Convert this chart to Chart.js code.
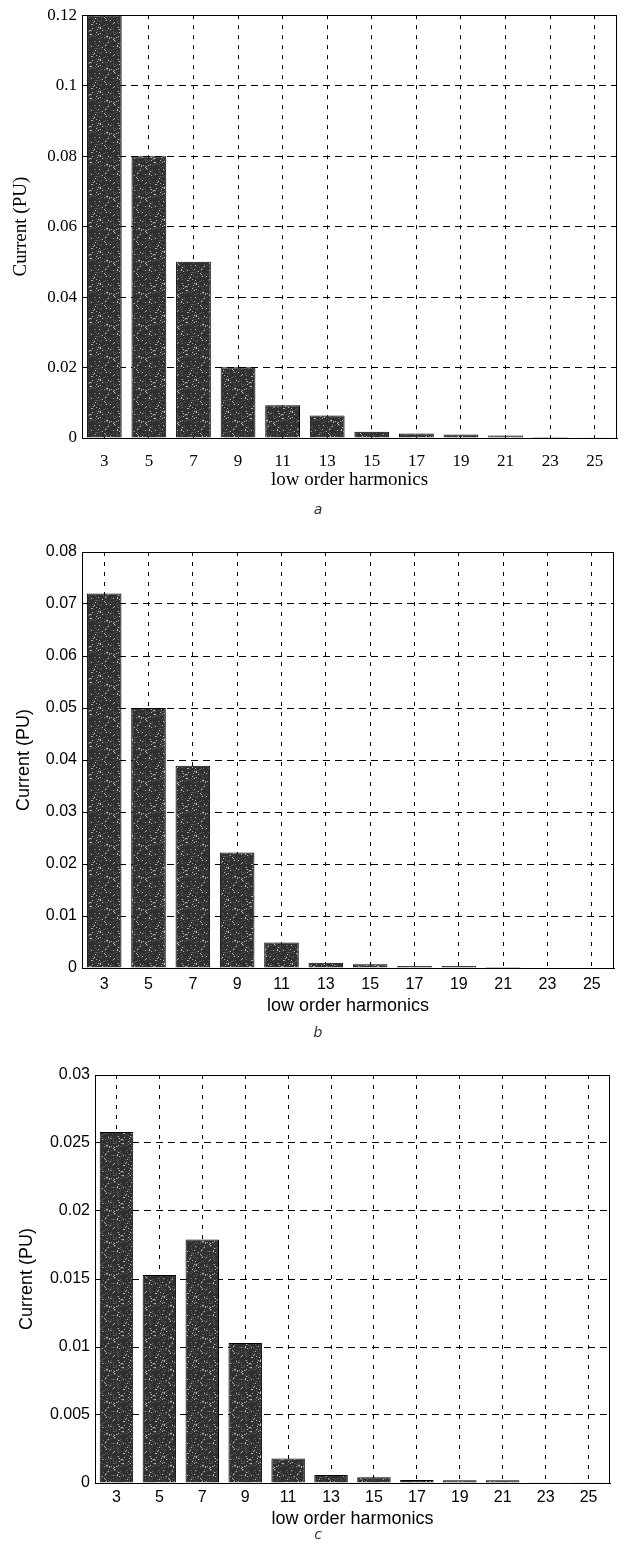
<!DOCTYPE html>
<html>
<head>
<meta charset="utf-8">
<script src="https://cdn.jsdelivr.net/npm/chart.js@4.4.0/dist/chart.umd.min.js"></script>
<style>
  html, body { margin: 0; padding: 0; background: #fff; }
  body { width: 623px; height: 1547px; position: relative; overflow: hidden; }
  canvas { position: absolute; left: 0; }
  .tag { position: absolute; font-family: "DejaVu Sans", sans-serif; font-style: italic;
         font-size: 14px; color: #333; transform: translate(-50%, -50%); }
</style>
</head>
<body>
<canvas id="chartA" width="623" height="520" style="top:0px;width:623px;height:520px"></canvas>
<canvas id="chartB" width="623" height="525" style="top:520px;width:623px;height:525px"></canvas>
<canvas id="chartC" width="623" height="502" style="top:1045px;width:623px;height:502px"></canvas>
<div class="tag" style="left:318px;top:509px">a</div>
<div class="tag" style="left:318px;top:1032px">b</div>
<div class="tag" style="left:318px;top:1534px">c</div>
<script>
// Harmonic orders on the x axis
const harmonics = ['3', '5', '7', '9', '11', '13', '15', '17', '19', '21', '23', '25'];

// Harmonic current magnitudes (per unit) for the three cases
const currentA = [0.12, 0.08, 0.05, 0.0201, 0.0093, 0.0064, 0.0018, 0.0013, 0.0010, 0.0007, 0.0003, 0.0002];
const currentB = [0.072, 0.050, 0.0389, 0.0222, 0.0049, 0.0010, 0.0007, 0.0004, 0.0004, 0.0002, 0.0001, 0.0001];
const currentC = [0.0258, 0.0153, 0.0179, 0.0103, 0.0018, 0.00058, 0.00043, 0.00022, 0.0002, 0.0002, 0.00005, 0.00005];

// Y tick values for each panel
const yTicksA = [0, 0.02, 0.04, 0.06, 0.08, 0.1, 0.12];
const yTicksB = [0, 0.01, 0.02, 0.03, 0.04, 0.05, 0.06, 0.07, 0.08];
const yTicksC = [0, 0.005, 0.01, 0.015, 0.02, 0.025, 0.03];

const yTitle = 'Current (PU)';
const xTitle = 'low order harmonics';

// Speckled dark fill for the bars
function speckleFill() {
  const size = 32;
  const c = document.createElement('canvas');
  c.width = size; c.height = size;
  const g = c.getContext('2d');
  g.fillStyle = '#303030';
  g.fillRect(0, 0, size, size);
  for (let y = 0; y < size; y++) {
    for (let x = 0; x < size; x++) {
      const h = ((x * 73856093) ^ (y * 19349663) ^ (x * y * 83492791)) >>> 0;
      const k = h % 23;
      if (k === 0) { g.fillStyle = '#b8b8b8'; g.fillRect(x, y, 1, 1); }
      else if (k < 4) { g.fillStyle = '#5c5c5c'; g.fillRect(x, y, 1, 1); }
    }
  }
  return g.createPattern(c, 'repeat');
}

// Solid frame on all four sides of the plot area
const frame = {
  id: 'frame',
  afterDatasetsDraw(chart) {
    const { ctx, chartArea: a } = chart;
    ctx.save();
    ctx.strokeStyle = '#000';
    ctx.lineWidth = 1;
    ctx.strokeRect(Math.round(a.left) + 0.5, Math.round(a.top) + 0.5,
                   Math.round(a.right - a.left) - 1, Math.round(a.bottom - a.top));
    ctx.restore();
  }
};

function makePanel(id, values, yTicks, p) {
  const ctx = document.getElementById(id).getContext('2d');
  const tickFont = { family: p.family, size: p.tickSize };
  const titleFont = { family: p.family, size: p.titleSize };
  return new Chart(ctx, {
    type: 'bar',
    data: {
      labels: harmonics,
      datasets: [{
        data: values,
        backgroundColor: speckleFill(),
        borderColor: '#000',
        borderWidth: 1,
        borderSkipped: 'start',
        barPercentage: 0.78,
        categoryPercentage: 1.0
      }]
    },
    options: {
      responsive: false,
      animation: false,
      events: [],
      layout: { padding: { left: 0, right: p.right, top: p.top, bottom: p.bottom } },
      plugins: { legend: { display: false }, tooltip: { enabled: false } },
      scales: {
        x: {
          offset: true,
          grid: { color: '#000', lineWidth: 1, offset: false, drawTicks: false },
          border: { display: true, color: '#000', width: 1, dash: [4, 6] },
          ticks: { color: '#000', font: tickFont, padding: p.xPad, maxRotation: 0, autoSkip: false },
          title: { display: true, text: xTitle, color: '#000', font: titleFont, padding: 0 },
          afterFit(scale) { scale.height = p.xHeight; }
        },
        y: {
          min: yTicks[0],
          max: yTicks[yTicks.length - 1],
          afterBuildTicks(scale) { scale.ticks = yTicks.map(v => ({ value: v })); },
          grid: { color: '#000', lineWidth: 1, drawTicks: false },
          border: { display: true, color: '#000', width: 1, dash: [7, 5] },
          ticks: {
            color: '#000', font: tickFont, padding: 5,
            callback: v => String(+Number(v).toFixed(4))
          },
          title: { display: true, text: yTitle, color: '#000', font: titleFont,
                   padding: { top: p.yTitlePad, bottom: 0 } },
          afterFit(scale) { scale.width = p.left; }
        }
      }
    },
    plugins: [frame]
  });
}

makePanel('chartA', currentA, yTicksA, {
  family: '"Liberation Serif", "Times New Roman", serif', tickSize: 17, titleSize: 19,
  left: 82, right: 6, top: 15, bottom: 29, xHeight: 53, xPad: 13, yTitlePad: 10
});
makePanel('chartB', currentB, yTicksB, {
  family: '"Liberation Sans", Arial, sans-serif', tickSize: 16, titleSize: 18,
  left: 82, right: 9, top: 32, bottom: 28, xHeight: 49, xPad: 7, yTitlePad: 13
});
makePanel('chartC', currentC, yTicksC, {
  family: '"Liberation Sans", Arial, sans-serif', tickSize: 16, titleSize: 18,
  left: 95, right: 13, top: 30, bottom: 17, xHeight: 47, xPad: 5, yTitlePad: 16
});
</script>
</body>
</html>
